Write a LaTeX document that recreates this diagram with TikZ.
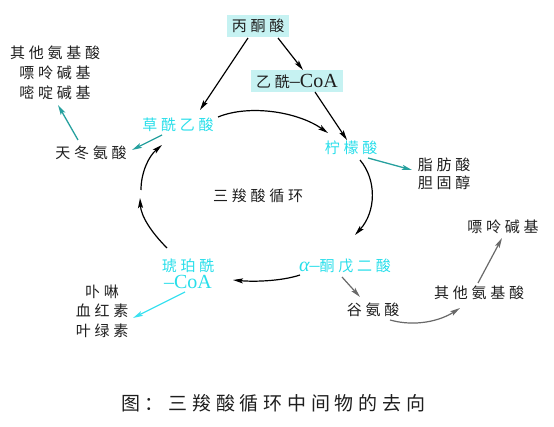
\documentclass[tikz,border=0pt]{standalone}
\usepackage{fontspec}
\newfontfamily\cjk{Noto Sans CJK SC}[LetterSpace=25]
\newfontfamily\lat{Liberation Serif}
\usetikzlibrary{arrows.meta,calc}
\definecolor{cyantxt}{RGB}{40,222,234}
\definecolor{tealarr}{RGB}{38,160,158}
\definecolor{cyanarr}{RGB}{60,225,240}
\definecolor{grayarr}{RGB}{105,105,105}
\definecolor{boxfill}{RGB}{198,242,242}
\definecolor{txt}{RGB}{30,30,30}
\newcommand{\latin}[1]{{\lat\fontsize{20}{18}\selectfont #1}}
\tikzset{
  lbl/.style={font=\fontsize{15}{18}\selectfont\cjk, inner sep=1pt, align=center, text=txt},
  cyl/.style={lbl, text=cyantxt},
  boxed/.style={lbl, fill=boxfill, inner xsep=5pt, inner ysep=3pt},
  blk/.style={draw=black, line width=1.2pt, -{Stealth[length=10pt,width=5pt,inset=2pt]}},
  teal/.style={draw=tealarr, line width=1.3pt, -{Stealth[length=10pt,width=5pt,inset=2pt]}},
  cyar/.style={draw=cyanarr, line width=1.3pt, -{Stealth[length=10pt,width=5pt,inset=2pt]}},
  gray/.style={draw=grayarr, line width=1.2pt, -{Stealth[length=10pt,width=5pt,inset=2pt]}},
}
\begin{document}
\begin{tikzpicture}[x=1pt,y=-1pt]
\useasboundingbox (0,0) rectangle (554,427);
% nodes
\node[boxed, minimum height=22pt] (pyr) at (258,26) {丙酮酸};
\node[boxed, minimum height=22pt] (acoa) at (297,81) {乙酰\latin{–CoA}};
\node[cyl] (oaa) at (178,125) {草酰乙酸};
\node[cyl] (cit) at (351,148) {柠檬酸};
\node[cyl] (akg) at (345,266) {\latin{\itshape α\upshape –}酮戊二酸};
\node[cyl] (succ) at (188,274) {琥珀酰\\[-1pt]\latin{–CoA}};
\node[lbl] (tca) at (258,196) {三羧酸循环};
\node[lbl] (asp) at (91,153) {天冬氨酸};
\node[lbl, font=\fontsize{15}{20}\selectfont\cjk] (aa1) at (55,73) {其他氨基酸\\嘌呤碱基\\嘧啶碱基};
\node[lbl] (fat) at (444,174) {脂肪酸\\胆固醇};
\node[lbl] (glu) at (373,310) {谷氨酸};
\node[lbl] (aa2) at (479,293) {其他氨基酸};
\node[lbl] (pur) at (503,227) {嘌呤碱基};
\node[lbl, font=\fontsize{15}{19.5}\selectfont\cjk] (por) at (102,311) {卟啉\\血红素\\叶绿素};
\node[lbl, font=\fontsize{19}{22}\selectfont\cjk] (cap) at (273,403) {图：三羧酸循环中间物的去向};
\coordinate (gapA) at (140,198);
\coordinate (gapB) at (141,190);
% connectors
\draw[blk] ($(pyr)+(-10,12)$) -- ($(oaa)+(22,-15)$);
\draw[blk] ($(pyr)+(20,12)$) -- ($(acoa)+(6,-11)$);
\draw[blk] ($(acoa)+(18,11)$) -- ($(cit)+(-4,-8)$);
\draw[blk] ($(oaa)+(40,-8)$) .. controls (250,104) and (298,112) .. ($(cit)+(-23,-15)$);
\draw[blk] ($(cit)+(9,12)$) .. controls (377,180) and (376,212) .. ($(akg)+(10,-31)$);
\draw[blk] ($(akg)+(-45,9)$) .. controls (282,281) and (255,282) .. ($(succ)+(45,6)$);
\draw[blk] ($(succ)+(-21,-26)$) .. controls (151,232) and (141,216) .. (gapA);
\draw[blk] (gapB) .. controls (141,172) and (149,156) .. ($(oaa)+(-16,20)$);
\draw[teal] ($(oaa)+(-16,10)$) -- ($(asp)+(41,-3)$);
\draw[teal] ($(asp)+(-13,-13)$) -- ($(aa1)+(3,32)$);
\draw[teal] ($(cit)+(17,10)$) -- ($(fat)+(-32,-4)$);
\draw[cyar] ($(succ)+(-3,18)$) -- ($(por)+(31,7)$);
\draw[gray] ($(akg)+(-3,11)$) -- ($(glu)+(-13,-13)$);
\draw[gray] ($(glu)+(17,10)$) .. controls (415,327) and (440,321) .. ($(aa2)+(-19,15)$);
\draw[gray] ($(aa2)+(-1,-10)$) -- ($(pur)+(-1,11)$);
\end{tikzpicture}
\end{document}
